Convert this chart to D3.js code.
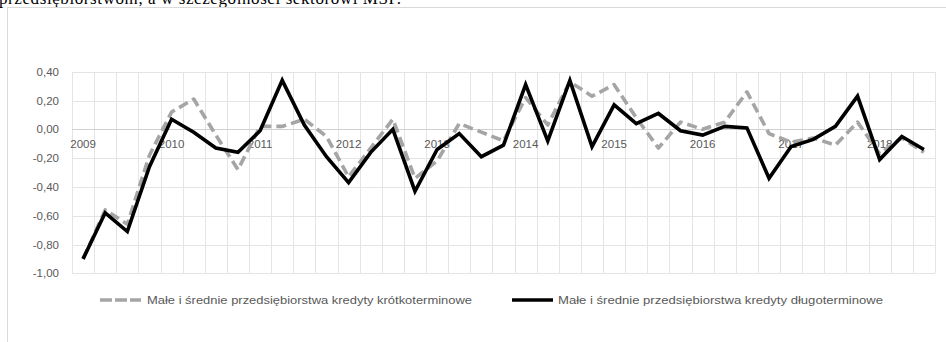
<!DOCTYPE html>
<html>
<head>
<meta charset="utf-8">
<script src="https://cdn.jsdelivr.net/npm/d3@7"></script>
<style>
  html, body { margin: 0; padding: 0; background: #fff; }
  svg { display: block; }
</style>
</head>
<body>
<script>
// Quarterly categories 2009 Q1 – 2018 Q3
const years = ["2009","2010","2011","2012","2013","2014","2015","2016","2017","2018"];
const quarters = ["Q1","Q2","Q3","Q4"];
const categories = [];
years.forEach(y => quarters.forEach(q => categories.push(y + q)));
categories.splice(39); // series end in 2018 Q3

const shortTerm = [-0.90,-0.56,-0.66,-0.18, 0.12, 0.21,-0.04,-0.28, 0.02, 0.02,
                    0.07,-0.05,-0.33,-0.13, 0.07,-0.34,-0.22, 0.04,-0.02,-0.08,
                    0.22, 0.03, 0.33, 0.23, 0.31, 0.08,-0.13, 0.05, 0.00, 0.05,
                    0.26,-0.03,-0.09,-0.06,-0.11, 0.05,-0.17,-0.06,-0.16];
const longTerm  = [-0.90,-0.58,-0.71,-0.26, 0.07,-0.02,-0.13,-0.16,-0.01, 0.34,
                    0.03,-0.19,-0.37,-0.16, 0.00,-0.43,-0.14,-0.03,-0.19,-0.11,
                    0.31,-0.08, 0.34,-0.12, 0.17, 0.04, 0.11,-0.01,-0.04, 0.02,
                    0.01,-0.34,-0.12,-0.07, 0.02, 0.23,-0.21,-0.05,-0.14];
const yTicks = [0.4, 0.2, 0, -0.2, -0.4, -0.6, -0.8, -1.0];
const seriesNames = [
  "Małe i średnie przedsiębiorstwa kredyty krótkoterminowe",
  "Małe i średnie przedsiębiorstwa kredyty długoterminowe"
];
const headingText = "przedsiębiorstwom, a w szczególności sektorowi MSP.";

const W = 946, H = 342;
const svg = d3.select("body").append("svg").attr("width", W).attr("height", H);
svg.append("rect").attr("width", W).attr("height", H).attr("fill", "#fff");

// Running text above the chart frame
svg.append("text")
  .attr("x", -1).attr("y", 4)
  .attr("font-family", "'Liberation Serif', 'Times New Roman', serif")
  .attr("font-size", 17)
  .attr("fill", "#000")
  .attr("textLength", 402)
  .text(headingText);

// Chart frame
svg.append("rect")
  .attr("x", 7.5).attr("y", 7.5)
  .attr("width", W + 20).attr("height", H + 20)
  .attr("fill", "#fff").attr("stroke", "#d9d9d9").attr("stroke-width", 1);

const plot = { left: 72, right: 935, top: 71.7, bottom: 273.3 };

const x = d3.scaleBand().domain(categories).range([plot.left, plot.right]);
const y = d3.scaleLinear().domain([-1.0, 0.4]).range([plot.bottom, plot.top]);
const fmt = v => d3.format(".2f")(v).replace(".", ",").replace("−", "-");

// Horizontal gridlines
svg.append("g").selectAll("line").data(yTicks).join("line")
  .attr("x1", plot.left).attr("x2", plot.right)
  .attr("y1", d => Math.round(y(d)) + 0.5).attr("y2", d => Math.round(y(d)) + 0.5)
  .attr("stroke", "#e4e4e4").attr("stroke-width", 1);

// Vertical gridlines at category boundaries
const bounds = categories.map(c => x(c)).concat([plot.right]);
svg.append("g").selectAll("line").data(bounds).join("line")
  .attr("x1", d => Math.round(d) + 0.5).attr("x2", d => Math.round(d) + 0.5)
  .attr("y1", plot.top).attr("y2", plot.bottom)
  .attr("stroke", "#e4e4e4").attr("stroke-width", 1);

// Category axis on the zero line
svg.append("line")
  .attr("x1", plot.left).attr("x2", plot.right)
  .attr("y1", Math.round(y(0)) + 0.5).attr("y2", Math.round(y(0)) + 0.5)
  .attr("stroke", "#d0d0d0").attr("stroke-width", 1);

// Y axis labels
const yAxis = d3.axisLeft(y).tickValues(yTicks).tickFormat(fmt).tickSize(0).tickPadding(0);
const gy = svg.append("g").attr("transform", `translate(59,0)`).call(yAxis);
gy.select(".domain").remove();
gy.selectAll("text")
  .attr("font-family", "'Liberation Sans', Arial, sans-serif")
  .attr("font-size", 11.5).attr("fill", "#595959");

// Year labels at each first quarter
const yearCats = categories.filter(c => c.endsWith("Q1"));
const xAxis = d3.axisBottom(x).tickValues(yearCats).tickFormat(c => c.slice(0, 4))
  .tickSize(0).tickPadding(0);
const gx = svg.append("g").attr("transform", `translate(0,${y(0) + 11})`).call(xAxis);
gx.select(".domain").remove();
gx.selectAll("text")
  .attr("font-family", "'Liberation Sans', Arial, sans-serif")
  .attr("font-size", 11.5).attr("fill", "#595959");

// Series lines
const line = d3.line()
  .x((d, i) => x(categories[i]) + x.bandwidth() / 2)
  .y(d => y(d));

svg.append("path").datum(shortTerm)
  .attr("d", line)
  .attr("fill", "none").attr("stroke", "#a5a5a5").attr("stroke-width", 3.6)
  .attr("stroke-dasharray", "10,5").attr("stroke-linejoin", "round");

svg.append("path").datum(longTerm)
  .attr("d", line)
  .attr("fill", "none").attr("stroke", "#000").attr("stroke-width", 3.6)
  .attr("stroke-linejoin", "miter");

// Legend
const legY = 300;
const leg = svg.append("g")
  .attr("font-family", "'Liberation Sans', Arial, sans-serif")
  .attr("font-size", 11).attr("fill", "#595959");

leg.append("line")
  .attr("x1", 100).attr("x2", 141).attr("y1", legY).attr("y2", legY)
  .attr("stroke", "#a5a5a5").attr("stroke-width", 3.6).attr("stroke-dasharray", "12,3");
leg.append("text").attr("x", 147).attr("y", legY).attr("dy", "0.35em")
  .attr("textLength", 325).attr("lengthAdjust", "spacingAndGlyphs")
  .text(seriesNames[0]);

leg.append("line")
  .attr("x1", 512).attr("x2", 553).attr("y1", legY).attr("y2", legY)
  .attr("stroke", "#000").attr("stroke-width", 3.6);
leg.append("text").attr("x", 558).attr("y", legY).attr("dy", "0.35em")
  .attr("textLength", 325).attr("lengthAdjust", "spacingAndGlyphs")
  .text(seriesNames[1]);
</script>
</body>
</html>
